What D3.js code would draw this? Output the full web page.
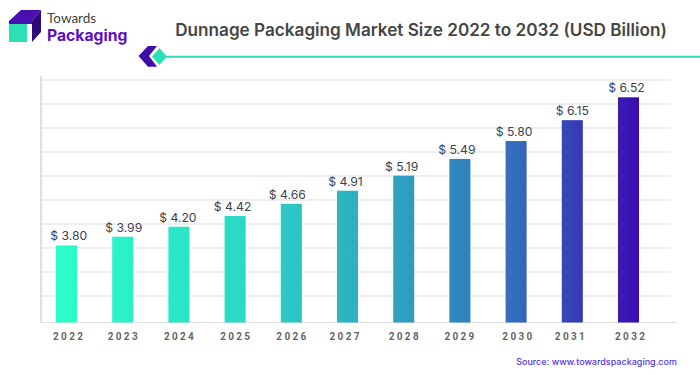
<!DOCTYPE html>
<html>
<head>
<meta charset="utf-8">
<script src="https://cdn.jsdelivr.net/npm/d3@7"></script>
<style>
    html, body { margin: 0; padding: 0; background: #fff; }
    svg { display: block; }
</style>
</head>
<body>
<div id="chart"></div>
<script>
// chart data
const years = ["2022", "2023", "2024", "2025", "2026", "2027", "2028", "2029", "2030", "2031", "2032"];
const marketSize = [3.80, 3.99, 4.20, 4.42, 4.66, 4.91, 5.19, 5.49, 5.80, 6.15, 6.52];
const gridLevels = [0, 1, 2, 3, 4, 5, 6, 7, 8, 9];
const gradientStops = ["#2cffc9", "#2bdcc6", "#2e9fc0", "#3468bc", "#3a0cb2"];
const gradientOffsets = [0, 0.3, 0.6, 0.8, 1];
// the labels are not quite centred over their bars in the picture
const labelNudge = [2.2, 1, -1, -2.5, -4, -2, -2, -3, -2, 0, -2];
const yearNudge = [1.5, 0, 0, 0, 0, -3, 0, -0.5, 1.2, -2.5, 1.5];

const width = 700, height = 375;

let svg = d3.select("#chart").append("svg")
    .attr("width", width)
    .attr("height", height);

// colour runs across the whole plot, not per bar
let grad = svg.append("defs").append("linearGradient")
    .attr("id", "barFill")
    .attr("gradientUnits", "userSpaceOnUse")
    .attr("x1", 56).attr("x2", 639).attr("y1", 0).attr("y2", 0);
grad.selectAll("stop").data(gradientStops).join("stop")
    .attr("offset", (d, i) => gradientOffsets[i])
    .attr("stop-color", d => d);

// X scale
let xScale = d3.scaleBand()
    .domain(years)
    .range([38.4, 656.6])
    .paddingInner(0.626)
    .paddingOuter(0.313);

// Y scale, the bars in the picture are not linear in their values
let yScale = d3.scalePow()
    .exponent(1.6)
    .domain([1.74, 6.52])
    .range([322.5, 97.3]);

// grid lines are evenly spaced and do not line up with any value
let gridScale = d3.scaleLinear()
    .domain([0, 9])
    .range([80, 296]);

svg.append("g").selectAll("line").data(gridLevels).join("line")
    .attr("x1", 41).attr("x2", 671)
    .attr("y1", d => gridScale(d)).attr("y2", d => gridScale(d))
    .attr("stroke", "#e8e8e8")
    .attr("stroke-width", 1.5);

// left and bottom axis lines
svg.append("line")
    .attr("x1", 41).attr("x2", 41).attr("y1", 76).attr("y2", 323)
    .attr("stroke", "#e0e0e0").attr("stroke-width", 2);
svg.append("line")
    .attr("x1", 41).attr("x2", 677).attr("y1", 322.5).attr("y2", 322.5)
    .attr("stroke", "#e0e0e0").attr("stroke-width", 1);

// bars
svg.append("g").selectAll("rect").data(marketSize).join("rect")
    .attr("x", (d, i) => xScale(years[i]))
    .attr("y", d => yScale(d))
    .attr("width", xScale.bandwidth())
    .attr("height", d => yScale.range()[0] - yScale(d))
    .attr("fill", "url(#barFill)");

// value labels
svg.append("g").selectAll("text").data(marketSize).join("text")
    .attr("x", (d, i) => xScale(years[i]) + xScale.bandwidth() / 2 + labelNudge[i])
    .attr("y", d => yScale(d) - 5)
    .attr("text-anchor", "middle")
    .attr("font-family", "Inter, sans-serif")
    .attr("font-size", 12.2)
    .attr("fill", "#3c4352")
    .text(d => "$ " + d.toFixed(2));

// year labels, 1.15 makes up for the trailing letter spacing
svg.append("g").selectAll("text").data(years).join("text")
    .attr("x", (d, i) => xScale(d) + xScale.bandwidth() / 2 + 1.15 + yearNudge[i])
    .attr("y", 340)
    .attr("text-anchor", "middle")
    .attr("font-family", "Roboto, sans-serif")
    .attr("font-weight", 700)
    .attr("font-size", 10)
    .attr("letter-spacing", 2.3)
    .attr("fill", "#666")
    .text(d => d);

// title
svg.append("text")
    .attr("x", 421).attr("y", 36)
    .attr("text-anchor", "middle")
    .attr("font-family", "Inter, sans-serif")
    .attr("font-weight", 600)
    .attr("font-size", 17.15)
    .attr("fill", "#464646")
    .text("Dunnage Packaging Market Size 2022 to 2032 (USD Billion)");

// source
svg.append("text")
    .attr("x", 677).attr("y", 365)
    .attr("text-anchor", "end")
    .attr("font-family", "Inter, sans-serif")
    .attr("font-weight", 500)
    .attr("font-size", 9)
    .attr("fill", "#5a35d6")
    .text("Source: www.towardspackaging.com");

// logo
let logo = svg.append("g");
logo.append("path").attr("d", "M9 21 L21 10 L41 10 L32 21 L32 24 L9 24 Z").attr("fill", "#4a0fb0");
logo.append("path").attr("d", "M32 21 L41 10 L41 32 L32 42 Z").attr("fill", "#2c0a78");
logo.append("rect").attr("x", 9).attr("y", 24).attr("width", 18).attr("height", 18).attr("fill", "#2be0b4");
logo.append("text").attr("x", 47).attr("y", 23)
    .attr("font-family", "Lato, sans-serif").attr("font-size", 13.5).attr("fill", "#444").text("Towards");
logo.append("text").attr("x", 47).attr("y", 41)
    .attr("font-family", "Inter, sans-serif").attr("font-weight", 700).attr("font-size", 15.7).attr("fill", "#5a10c4").text("Packaging");

// title ornament
let orn = svg.append("g");
orn.append("line").attr("x1", 160).attr("x2", 700).attr("y1", 56.7).attr("y2", 56.7)
    .attr("stroke", "#2be0b4").attr("stroke-width", 2);
orn.append("path").attr("d", "M138.5 56 L148 46 L157 46 L149 56 L157 66.7 L148 66.7 Z").attr("fill", "#3f0ea8");
orn.append("path").attr("d", "M152 56.5 L159.5 48 L167 56.5 L159.5 65 Z").attr("fill", "#2be0b4");
</script>
</body>
</html>
